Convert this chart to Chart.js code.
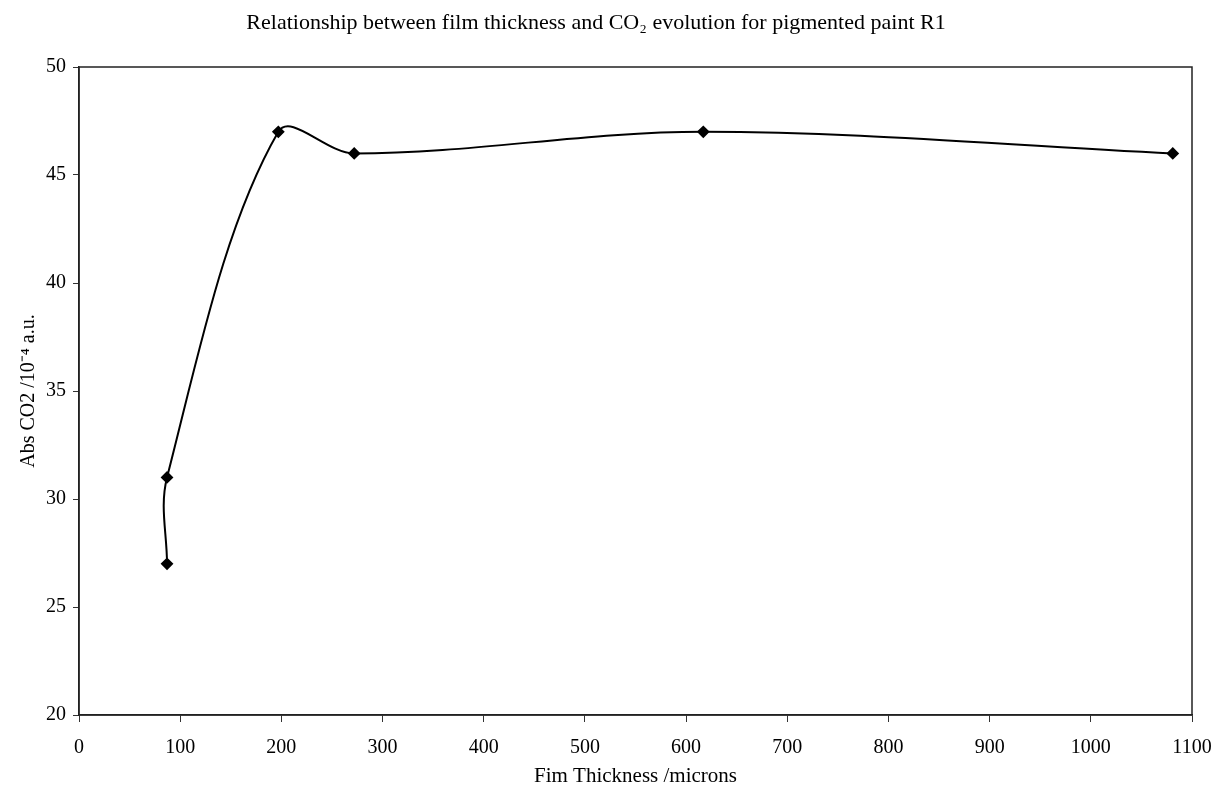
<!DOCTYPE html>
<html>
<head>
<meta charset="utf-8">
<script src="https://cdn.jsdelivr.net/npm/chart.js@4.4.0/dist/chart.umd.min.js"></script>
<style>
  html, body { margin: 0; padding: 0; background: #fff; }
  #wrap { width: 1217px; height: 787px; }
</style>
</head>
<body>
<div id="wrap"><canvas id="Graph1"></canvas></div>
<script>
// film thickness (microns) and CO2 absorbance (10^-4 a.u.)
const thickness = [87, 87, 197, 272, 617, 1081];
const absCO2 = [27, 31, 47, 46, 47, 46];
const xTicks = [0, 100, 200, 300, 400, 500, 600, 700, 800, 900, 1000, 1100];
const yTicks = [20, 25, 30, 35, 40, 45, 50];

const serif = 'Liberation Serif';

let points = [];
thickness.forEach((t, i) => points.push({x: t, y: absCO2[i]}));

// box round the plot area
const frame = {
    id: 'frame',
    afterDraw(chart) {
        const {ctx, chartArea} = chart;
        ctx.save();
        ctx.strokeStyle = '#222';
        ctx.lineWidth = 1.5;
        ctx.strokeRect(chartArea.left, chartArea.top, chartArea.right - chartArea.left, chartArea.bottom - chartArea.top);
        ctx.restore();
    }
};

const canvas1 = document.getElementById('Graph1');

new Chart(canvas1, {
    type: 'scatter',
    data: {
        datasets: [{
            data: points,
            showLine: true,
            borderColor: '#000',
            borderWidth: 2,
            backgroundColor: '#000',
            pointStyle: 'rectRot',
            pointRadius: 5,
            tension: 0.35
        }]
    },
    options: {
        responsive: true,
        maintainAspectRatio: false,
        animation: false,
        layout: { padding: { left: 0, right: 25, top: 0, bottom: 0 } },
        plugins: {
            legend: { display: false },
            tooltip: { enabled: false },
            title: {
                display: true,
                text: 'Relationship between film thickness and CO\u2082 evolution for pigmented paint R1',
                color: '#000',
                font: { family: serif, size: 22, weight: 'normal', lineHeight: 1.2 },
                padding: { top: 10, bottom: 30.6 }
            }
        },
        scales: {
            x: {
                type: 'linear',
                min: 0,
                max: 1100,
                afterBuildTicks: s => { s.ticks = xTicks.map(v => ({value: v})); },
                afterFit: s => { s.height = 72; s.paddingLeft = 0; s.paddingRight = 0; },
                grid: { display: true, drawOnChartArea: false, drawTicks: true, tickLength: 7, color: '#333', lineWidth: 1 },
                border: { display: true, color: '#222', width: 1.5 },
                ticks: { color: '#000', padding: 14, font: { family: serif, size: 20 }, maxRotation: 0, callback: v => String(v) },
                title: {
                    display: true,
                    text: 'Fim Thickness /microns',
                    color: '#000',
                    font: { family: serif, size: 21, lineHeight: 1 },
                    padding: { top: 0, bottom: 0 }
                }
            },
            y: {
                min: 20,
                max: 50,
                afterBuildTicks: s => { s.ticks = yTicks.map(v => ({value: v})); },
                afterFit: s => { s.width = 79; },
                grid: { display: true, drawOnChartArea: false, drawTicks: true, tickLength: 6, color: '#333', lineWidth: 1 },
                border: { display: true, color: '#222', width: 1.5 },
                ticks: { color: '#000', padding: 7, font: { family: serif, size: 20 } },
                title: {
                    display: true,
                    text: 'Abs CO2 /10\u207B\u2074 a.u.',
                    color: '#000',
                    font: { family: serif, size: 20, lineHeight: 1 },
                    padding: { top: 19, bottom: 0 }
                }
            }
        }
    },
    plugins: [frame]
});
</script>
</body>
</html>
